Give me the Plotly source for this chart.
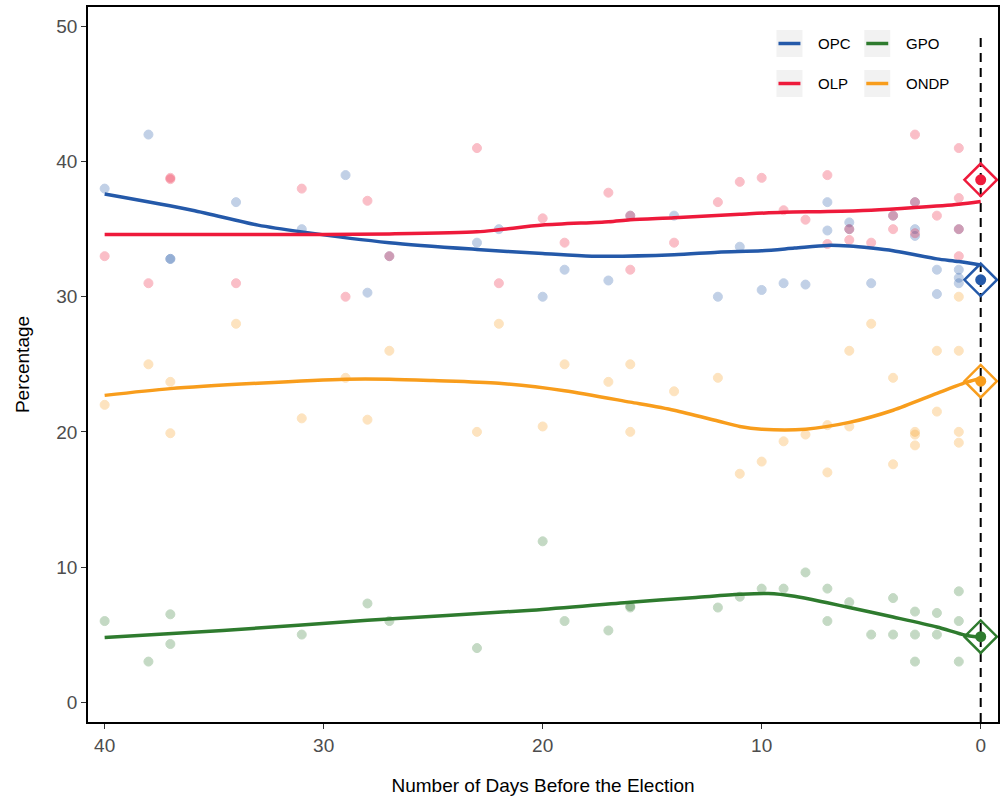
import plotly.graph_objects as go

# ---------------- poll data (days before election, vote share %) ----------------
opc_days = [40, 38, 37, 37, 34, 31, 29, 28, 27, 23, 22, 20, 19, 17, 16, 14, 12, 11, 10, 9, 8,
            7, 7, 6, 6, 5, 4, 3, 3, 3, 2, 2, 1, 1, 1, 1]
opc_vals = [38, 42, 32.8, 32.8, 37, 35, 39, 30.3, 33, 34, 35, 30, 32, 31.2, 36, 36, 30, 33.7, 30.5, 31, 30.9,
            37, 34.9, 35.5, 35, 31, 36, 37, 35, 34.5, 32, 30.2, 35, 32, 31.4, 31]

olp_days = [40, 38, 37, 37, 34, 31, 29, 28, 27, 23, 22, 20, 19, 17, 16, 16, 14, 12, 11, 10, 9, 8,
            7, 7, 6, 6, 5, 4, 4, 3, 3, 3, 2, 1, 1, 1, 1]
olp_vals = [33, 31, 38.7, 38.8, 31, 38, 30, 37.1, 33, 41, 31, 35.8, 34, 37.7, 36, 32, 34, 37, 38.5, 38.8, 36.4, 35.7,
            39, 33.9, 35, 34.2, 34, 36, 35, 42, 37, 34.7, 36, 41, 37.3, 35, 33]

ondp_days = [40, 38, 37, 37, 34, 31, 29, 28, 27, 23, 22, 20, 19, 17, 16, 16, 14, 12, 11, 10, 9, 8,
             7, 7, 6, 6, 5, 4, 4, 3, 3, 3, 2, 2, 1, 1, 1, 1]
ondp_vals = [22, 25, 23.7, 19.9, 28, 21, 24, 20.9, 26, 20, 28, 20.4, 25, 23.7, 25, 20, 23, 24, 16.9, 17.8, 19.3, 19.8,
             20.5, 17, 26, 20.4, 28, 24, 17.6, 20, 19.8, 19, 26, 21.5, 30, 26, 20, 19.2]

gpo_days = [40, 38, 37, 37, 31, 28, 27, 23, 20, 19, 17, 16, 16, 12, 11, 10, 9, 8,
            7, 7, 6, 5, 4, 4, 3, 3, 3, 2, 2, 1, 1, 1]
gpo_vals = [6, 3, 6.5, 4.3, 5, 7.3, 6, 4, 11.9, 6, 5.3, 7, 7.1, 7, 7.8, 8.4, 8.4, 9.6,
            8.4, 6, 7.4, 5, 7.7, 5, 6.7, 5, 3, 6.6, 5, 8.2, 6, 3]

# ---------------- smoothed trends ----------------
opc_trend_days = [40, 36, 33, 31, 27, 23, 20, 17.75, 14, 12, 10, 8.5, 7, 6, 5, 4, 3, 2, 1, 0]
opc_trend_vals = [37.6, 36.4, 35.3, 34.8, 34.0, 33.5, 33.2, 33.0, 33.1, 33.3, 33.4, 33.6, 33.8, 33.75,
                  33.6, 33.4, 33.1, 32.8, 32.6, 32.35]

olp_trend_days = [40, 35, 30, 27, 23, 22, 20, 17, 16, 14, 11, 9, 7, 5, 3, 1, 0]
olp_trend_vals = [34.6, 34.6, 34.6, 34.65, 34.8, 34.95, 35.3, 35.55, 35.7, 35.85, 36.1, 36.25, 36.3,
                  36.4, 36.6, 36.85, 37.05]

ondp_trend_days = [40, 37, 33, 29, 27, 25, 22, 19, 16, 14, 12, 11, 10, 8, 6, 4, 2, 0.6, 0]
ondp_trend_vals = [22.7, 23.2, 23.6, 23.9, 23.9, 23.8, 23.6, 23.05, 22.2, 21.6, 20.8, 20.4, 20.2, 20.2,
                   20.7, 21.6, 22.85, 23.7, 23.95]

gpo_trend_days = [40, 34.6, 28, 20.5, 16, 13, 11, 9.7, 8.5, 7, 6, 4, 2, 0.7, 0]
gpo_trend_vals = [4.78, 5.3, 6.06, 6.8, 7.4, 7.75, 7.98, 8.04, 7.84, 7.35, 7.0, 6.3, 5.56, 4.95, 4.8]

# ---------------- election-day results ----------------
result_parties = ["OPC", "OLP", "GPO", "ONDP"]
result_vals = [31.25, 38.65, 4.84, 23.75]

colors = {"OPC": "#2459A9", "OLP": "#EE1A3B", "GPO": "#2E7B2E", "ONDP": "#F89D1C"}

series = [
    ("OPC", opc_days, opc_vals, opc_trend_days, opc_trend_vals),
    ("OLP", olp_days, olp_vals, olp_trend_days, olp_trend_vals),
    ("GPO", gpo_days, gpo_vals, gpo_trend_days, gpo_trend_vals),
    ("ONDP", ondp_days, ondp_vals, ondp_trend_days, ondp_trend_vals),
]

fig = go.Figure()

# individual polls
for name, d, v, _, _ in series:
    fig.add_trace(go.Scatter(
        x=d, y=v, mode="markers", showlegend=False, hoverinfo="skip",
        marker=dict(size=9, color=colors[name], opacity=0.28,
                    line=dict(width=1, color=colors[name])),
    ))

# trend lines
for name, _, _, td, tv in series:
    fig.add_trace(go.Scatter(
        x=td, y=tv, mode="lines", name=name, showlegend=False,
        line=dict(color=colors[name], width=3.5, shape="spline", smoothing=0.8),
    ))

# election-day results: filled dot inside an open diamond
for name, val in zip(result_parties, result_vals):
    fig.add_trace(go.Scatter(
        x=[0], y=[val], mode="markers", showlegend=False,
        marker=dict(size=11, color=colors[name], symbol="circle"),
    ))
    fig.add_trace(go.Scatter(
        x=[0], y=[val], mode="markers", showlegend=False,
        marker=dict(size=25, color=colors[name], symbol="diamond-open",
                    line=dict(width=2.5)),
    ))

# plot area geometry in pixels
W, H = 1002, 802
L, R, T, B = 88, 2, 7, 80
PW, PH = W - L - R, H - T - B


def px(x):
    return (x - L) / PW


def py(y):
    return (H - B - y) / PH


shapes = []
annotations = []

# election-day marker line
shapes.append(dict(type="line", xref="x", yref="paper", x0=0, x1=0, y0=0, y1=py(35),
                   line=dict(color="black", width=2, dash="9px,6px"), layer="below"))

# legend drawn as keys with grey backgrounds
legend_items = [("OPC", 778, 30), ("OLP", 778, 70), ("GPO", 866, 30), ("ONDP", 866, 70)]
for name, kx, ky in legend_items:
    shapes.append(dict(type="rect", xref="paper", yref="paper",
                       x0=px(kx), x1=px(kx + 26), y0=py(ky + 27), y1=py(ky),
                       fillcolor="#F2F2F2", line=dict(width=0), layer="above"))
    shapes.append(dict(type="line", xref="paper", yref="paper",
                       x0=px(kx + 2), x1=px(kx + 24), y0=py(ky + 13.5), y1=py(ky + 13.5),
                       line=dict(color=colors[name], width=3.5), layer="above"))
    annotations.append(dict(text=name, xref="paper", yref="paper", x=px(kx + 40), y=py(ky + 13.5),
                            xanchor="left", yanchor="middle", showarrow=False,
                            font=dict(family="Liberation Sans, Arial, sans-serif", size=15, color="black")))

fig.update_layout(
    width=W, height=H,
    margin=dict(l=L, r=R, t=T, b=B),
    paper_bgcolor="white", plot_bgcolor="white",
    font=dict(family="Liberation Sans, Arial, sans-serif", color="black"),
    shapes=shapes, annotations=annotations,
    showlegend=False,
    xaxis=dict(
        range=[40.76, -0.79], tickvals=[40, 30, 20, 10, 0], ticks="outside", ticklen=5,
        tickwidth=1, tickcolor="#333333", showline=True, linecolor="black", linewidth=1.5,
        mirror=True, showgrid=False, zeroline=False,
        tickfont=dict(size=19, color="#4D4D4D"),
        title=dict(text="Number of Days Before the Election", font=dict(size=19, color="black"), standoff=24),
    ),
    yaxis=dict(
        range=[-1.47, 51.44], tickvals=[0, 10, 20, 30, 40, 50], ticks="outside", ticklen=5,
        tickwidth=1, tickcolor="#333333", showline=True, linecolor="black", linewidth=1.5,
        mirror=True, showgrid=False, zeroline=False,
        tickfont=dict(size=19, color="#4D4D4D"),
        title=dict(text="Percentage", font=dict(size=19, color="black"), standoff=22),
    ),
)

fig.write_html("out.html")
